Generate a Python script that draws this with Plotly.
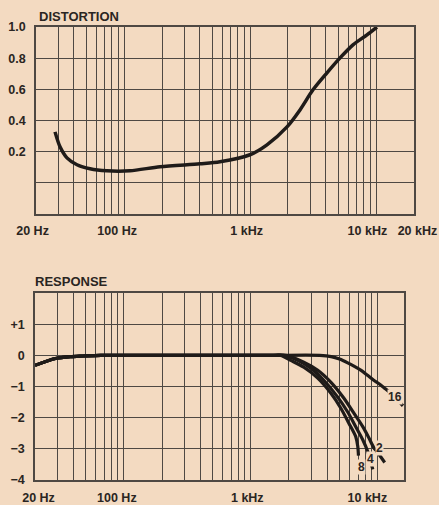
import math
import plotly.graph_objects as go

# ---------------- data ----------------
# Distortion (%) vs frequency (Hz)
dist_freq = [28.3, 31.0, 35.2, 42.3, 53.7, 73, 111, 193, 400, 577, 998, 1362,
             1964, 2490, 3158, 4078, 5175, 6560, 8475, 10160]
dist_val = [0.327, 0.231, 0.160, 0.116, 0.090, 0.077, 0.077, 0.103, 0.122, 0.135,
            0.180, 0.244, 0.359, 0.468, 0.597, 0.706, 0.802, 0.886, 0.950, 1.0]

# Response (dB): common low-frequency part
resp_low_freq = [20, 29, 38, 48, 66, 100, 300, 1000, 1500]
resp_low_db = [-0.32, -0.10, -0.04, -0.02, 0.0, 0.0, 0.0, 0.0, 0.0]

# Roll-off branches for settings 2, 4, 8, 16
r2_freq = [1886, 2615, 3370, 4265, 5400, 6470, 7620, 8490, 9300, 9840, 11350]
r2_db = [0.0, -0.22, -0.48, -0.86, -1.37, -1.85, -2.29, -2.64, -2.96, -3.09, -3.44]

r4_freq = [1820, 2345, 2970, 3760, 4840, 5800, 6710, 7620, 8340, 9140]
r4_db = [0.0, -0.16, -0.41, -0.80, -1.34, -1.82, -2.29, -2.71, -3.09, -3.66]

r8_freq = [1720, 2065, 2615, 3370, 4265, 5110, 5910, 6710, 6960, 7050]
r8_db = [0.0, -0.16, -0.38, -0.73, -1.21, -1.69, -2.17, -2.61, -2.92, -3.22]

r16_freq = [3500, 4300, 5000, 5800, 6600, 7400, 8300, 9300, 10300, 11200, 12500, 14000, 15800]
r16_db = [0.0, -0.04, -0.12, -0.24, -0.36, -0.48, -0.64, -0.80, -0.92, -1.04, -1.20, -1.40, -1.62]

branch_labels = ["2", "4", "8", "16"]
label_freq = [10370, 8810, 7480, 13600]
label_db = [-2.99, -3.34, -3.57, -1.34]

# grid / tick values
grid_freq = [20, 30, 40, 50, 60, 70, 80, 90,
             100, 200, 300, 400, 500, 600, 700, 800, 900,
             1000, 2000, 3000, 4000, 5000, 6000, 7000, 8000, 9000, 10000]
dist_ticks = [-0.2, 0.0, 0.2, 0.4, 0.6, 0.8, 1.0]
dist_ticktext = ["", "", "0.2", "0.4", "0.6", "0.8", "1.0"]
resp_ticks = [-4, -3, -2, -1, 0, 1, 2]
resp_ticktext = ["\u22124", "\u22123", "\u22122", "\u22121", "0", "+1", ""]

NB = "\u00a0"
top_xlabels = {20: "20 Hz" + NB * 2, 100: "100 Hz" + NB * 4, 1000: "1 kHz" + NB * 2,
               10000: "10 kHz" + NB * 5, 20000: NB * 2 + "20 kHz"}
bot_xlabels = {20: NB * 2 + "20 Hz", 100: "100 Hz" + NB * 4, 1000: "1 kHz" + NB * 2,
               10000: "10 kHz" + NB * 6}

# ---------------- style ----------------
BG = "#f3dac1"
INK = "#1f1b19"
GRID = "#4e4843"
TXT = "#2a2522"
FONT = "Liberation Sans"

fig = go.Figure()

fig.add_trace(go.Scatter(x=dist_freq, y=dist_val, mode="lines",
                         line=dict(color=INK, width=3.5, shape="spline", smoothing=0.8),
                         xaxis="x", yaxis="y", hoverinfo="skip"))

branches = [(r2_freq, r2_db), (r4_freq, r4_db), (r8_freq, r8_db), (r16_freq, r16_db)]
for bf, bd in branches:
    fig.add_trace(go.Scatter(x=resp_low_freq + bf, y=resp_low_db + bd, mode="lines",
                             line=dict(color=INK, width=3.2, shape="spline", smoothing=0.8),
                             xaxis="x2", yaxis="y2", hoverinfo="skip"))

top_tickvals = grid_freq + [20000]
top_ticktext = [top_xlabels.get(v, "") for v in top_tickvals]
bot_ticktext = [bot_xlabels.get(v, "") for v in grid_freq]

tickfont = dict(family=FONT, size=12.5, color=TXT, weight="bold")
axis_common = dict(showgrid=True, gridcolor=GRID, gridwidth=1.2, zeroline=False,
                   showline=True, mirror=True, linecolor=GRID, linewidth=1.5,
                   ticks="", tickfont=tickfont, fixedrange=True, automargin=False,
                   tickangle=0)

W, H = 439, 505
fig.update_layout(
    width=W, height=H, margin=dict(l=0, r=0, t=0, b=0, autoexpand=False),
    paper_bgcolor=BG, plot_bgcolor=BG, showlegend=False,
    xaxis=dict(type="log", domain=[36 / W, 414 / W],
               range=[math.log10(19.99), math.log10(20010)],
               tickmode="array", tickvals=top_tickvals, ticktext=top_ticktext,
               anchor="y", ticklabelstandoff=4, **axis_common),
    yaxis=dict(domain=[1 - 214 / H, 1 - 27 / H], range=[-0.2005, 1.0005],
               tickmode="array", tickvals=dist_ticks, ticktext=dist_ticktext,
               anchor="x", ticklabelstandoff=6, **axis_common),
    xaxis2=dict(type="log", domain=[35 / W, 404 / W],
                range=[math.log10(19.99), math.log10(16100)],
                tickmode="array", tickvals=grid_freq, ticktext=bot_ticktext,
                anchor="y2", ticklabelstandoff=5, **axis_common),
    yaxis2=dict(domain=[1 - 480 / H, 1 - 293 / H], range=[-4.003, 2.003],
                tickmode="array", tickvals=resp_ticks, ticktext=resp_ticktext,
                anchor="x2", ticklabelstandoff=6, **axis_common),
)

titlefont = dict(family=FONT, size=13, color=TXT, weight="bold")
fig.add_annotation(text="DISTORTION", xref="paper", yref="paper", x=37 / W, y=1 - 16 / H,
                   xanchor="left", yanchor="middle", showarrow=False, font=titlefont)
fig.add_annotation(text="RESPONSE", xref="paper", yref="paper", x=33 / W, y=1 - 281 / H,
                   xanchor="left", yanchor="middle", showarrow=False, font=titlefont)

# 20 kHz label for the response chart (beyond its right border)
fig.add_annotation(text="20 kHz", xref="x2", yref="paper", x=math.log10(20000),
                   y=1 - 496 / H, xanchor="center", yanchor="middle", showarrow=False,
                   font=tickfont)

# curve labels
for lab, lf, ld in zip(branch_labels, label_freq, label_db):
    fig.add_annotation(text=lab, xref="x2", yref="y2", x=math.log10(lf), y=ld,
                       showarrow=False, bgcolor=BG, borderpad=0,
                       font=dict(family=FONT, size=12, color=TXT, weight="bold"))

fig.write_html("out.html", config={"displayModeBar": False},
               post_script="document.body.style.margin='0';document.body.style.overflow='hidden';"
                           "document.body.style.background='" + BG + "';")
